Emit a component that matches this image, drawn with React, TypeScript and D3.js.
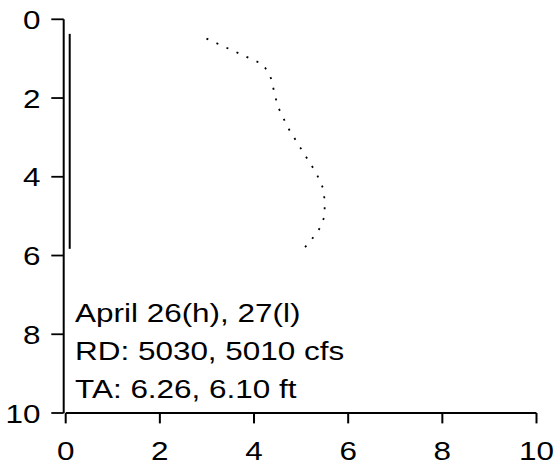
import React from "react";
import * as d3 from "d3";

// Velocity profile: depth (ft below surface) vs. value
const profileDepth = [0.49, 1.15, 1.5, 2.2, 2.75, 3.35, 3.9, 4.3, 4.6, 5.0, 5.3, 5.6, 5.85];
const profileValue = [2.99, 4.2, 4.36, 4.5, 4.72, 5.03, 5.32, 5.47, 5.5, 5.5, 5.4, 5.22, 5.04];

// Near-zero reference trace
const baseDepth = [0.37, 5.83];
const baseValue = [0.085, 0.085];

const xTicks = [0, 2, 4, 6, 8, 10];
const yTicks = [0, 2, 4, 6, 8, 10];

const noteLines = ["April 26(h), 27(l)", "RD: 5030, 5010 cfs", "TA: 6.26, 6.10 ft"];
const noteX = 0.2;
const noteDepths = [7.68, 8.65, 9.61];

const W = 554;
const H = 466;
const FONT = "'Liberation Sans', Arial, Helvetica, sans-serif";
const FS = 26.2;
const SX = 1.2; // horizontal stretch of glyphs

export default function App() {
  const x = d3.scaleLinear().domain([0, 10]).range([65.7, 536.5]);
  const y = d3.scaleLinear().domain([0, 10]).range([19.3, 413]);
  const yAxisX = 63.7;

  const line = d3
    .line<[number, number]>()
    .x((d) => x(d[0]))
    .y((d) => y(d[1]));

  const profile = profileDepth.map((dp, i) => [profileValue[i], dp] as [number, number]);
  const base = baseDepth.map((dp, i) => [baseValue[i], dp] as [number, number]);

  const txt = (
    key: string,
    tx: number,
    ty: number,
    s: string,
    anchor: "start" | "middle" | "end"
  ) => (
    <text
      key={key}
      transform={`translate(${tx},${ty}) scale(${SX},1)`}
      textAnchor={anchor}
      fontFamily={FONT}
      fontSize={FS}
      fill="#000"
    >
      {s}
    </text>
  );

  return (
    <svg
      width={W}
      height={H}
      style={{ position: "absolute", left: 0, top: 0, background: "#fff" }}
    >
      <rect width={W} height={H} fill="#fff" />
      {/* left axis */}
      <line x1={yAxisX} x2={yAxisX} y1={y(0)} y2={y(10)} stroke="#000" strokeWidth={2} />
      {yTicks.map((t) => (
        <g key={"yt" + t}>
          <line x1={yAxisX - 12.4} x2={yAxisX} y1={y(t)} y2={y(t)} stroke="#000" strokeWidth={1.8} />
          {txt("yl" + t, 40.5, y(t) + 9.6, String(t), "end")}
        </g>
      ))}
      {/* bottom axis */}
      <line x1={x(0)} x2={x(10)} y1={y(10)} y2={y(10)} stroke="#000" strokeWidth={1.8} />
      {xTicks.map((t) => (
        <g key={"xt" + t}>
          <line x1={x(t)} x2={x(t)} y1={y(10)} y2={y(10) + 10.4} stroke="#000" strokeWidth={2} />
          {txt("xl" + t, x(t), 460, String(t), "middle")}
        </g>
      ))}
      {/* traces */}
      <path d={line(base) || ""} fill="none" stroke="#000" strokeWidth={2} />
      <path
        d={line(profile) || ""}
        fill="none"
        stroke="#000"
        strokeWidth={1.8}
        strokeDasharray="2 9"
      />
      {/* annotation */}
      {noteLines.map((s, i) => txt("n" + i, x(noteX), y(noteDepths[i]), s, "start"))}
    </svg>
  );
}
